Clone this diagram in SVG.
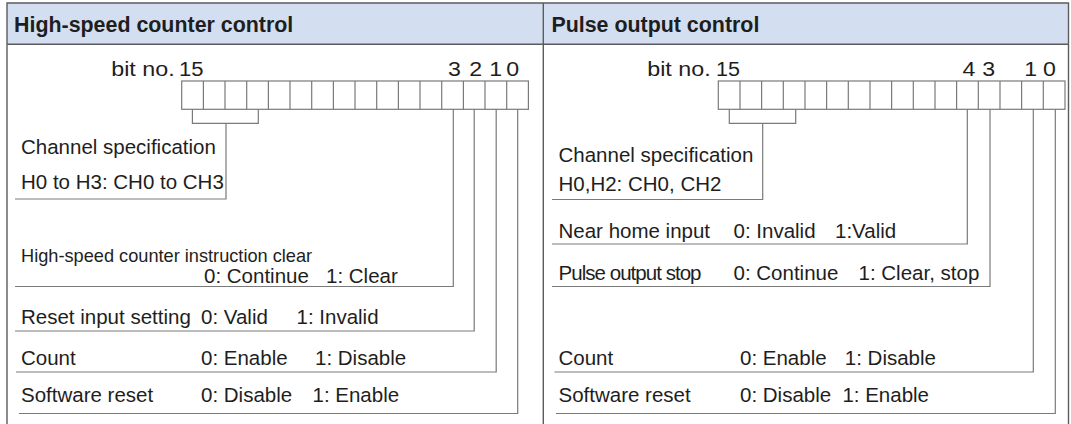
<svg xmlns="http://www.w3.org/2000/svg" width="1071" height="424" viewBox="0 0 1071 424">
<style>
.t{font-family:"Liberation Sans",Arial,sans-serif;font-size:20.5px;fill:#1e1e1e;white-space:pre}
.s{font-size:18.2px}
.h{font-family:"Liberation Sans",Arial,sans-serif;font-size:21.4px;font-weight:bold;fill:#1e1e1e}
.b{font-family:"Liberation Sans",Arial,sans-serif;font-size:19.5px;fill:#1e1e1e}
.frame{fill:none;stroke:#5c5c5c;stroke-width:1.4}
.cell{fill:#fff;stroke:#7a7a7a;stroke-width:1.2}
.ln{fill:none;stroke:#7a7a7a;stroke-width:1.2}
</style>
<g id="table">
<rect x="7" y="3" width="1061.5" height="41.3" fill="#d3dff0"/>
<path class="frame" d="M7,424 V3 H1068.5 V424 M7,44.3 H1068.5 M543.3,3 V424"/>
<text class="h" x="14" y="31.5">High-speed counter control</text>
<text class="h" x="551.4" y="31.5">Pulse output control</text>
</g>
<g id="left-register">
<text class="b" x="111.2" y="76" textLength="63.5" lengthAdjust="spacingAndGlyphs">bit no.</text>
<text class="b" x="179" y="76" textLength="24.5" lengthAdjust="spacingAndGlyphs">15</text>
<text class="b" x="448" y="76" textLength="12.9" lengthAdjust="spacingAndGlyphs">3</text>
<text class="b" x="469.3" y="76" textLength="12.9" lengthAdjust="spacingAndGlyphs">2</text>
<text class="b" x="489.2" y="76" textLength="12.9" lengthAdjust="spacingAndGlyphs">1</text>
<text class="b" x="506.3" y="76" textLength="12.9" lengthAdjust="spacingAndGlyphs">0</text>
<rect class="cell" x="181.7" y="81" width="346.7" height="28.3"/>
<path class="cell" d="M203.4,81V109.3M225.0,81V109.3M246.7,81V109.3M268.4,81V109.3M290.0,81V109.3M311.7,81V109.3M333.4,81V109.3M355.0,81V109.3M376.7,81V109.3M398.4,81V109.3M420.0,81V109.3M441.7,81V109.3M463.4,81V109.3M485.0,81V109.3M506.7,81V109.3"/>
</g>
<g id="right-register">
<text class="b" x="647.2" y="76" textLength="63.5" lengthAdjust="spacingAndGlyphs">bit no.</text>
<text class="b" x="716" y="76" textLength="24" lengthAdjust="spacingAndGlyphs">15</text>
<text class="b" x="962.5" y="76" textLength="12.9" lengthAdjust="spacingAndGlyphs">4</text>
<text class="b" x="982.3" y="76" textLength="12.9" lengthAdjust="spacingAndGlyphs">3</text>
<text class="b" x="1024.2" y="76" textLength="12.9" lengthAdjust="spacingAndGlyphs">1</text>
<text class="b" x="1043" y="76" textLength="12.9" lengthAdjust="spacingAndGlyphs">0</text>
<rect class="cell" x="718.3" y="81" width="346.7" height="28.3"/>
<path class="cell" d="M740.0,81V109.3M761.6,81V109.3M783.3,81V109.3M805.0,81V109.3M826.6,81V109.3M848.3,81V109.3M870.0,81V109.3M891.6,81V109.3M913.3,81V109.3M935.0,81V109.3M956.6,81V109.3M978.3,81V109.3M1000.0,81V109.3M1021.6,81V109.3M1043.3,81V109.3"/>
</g>
<g id="connectors">
<path class="ln" d="M192.4,109.3V123.3H258.3V109.3M226,123.3V199H15"/>
<path class="ln" d="M453.3,109.3V286.5H15"/>
<path class="ln" d="M474.2,109.3V331H15"/>
<path class="ln" d="M496.2,109.3V372H16"/>
<path class="ln" d="M517.7,109.3V413.5H19"/>
<path class="ln" d="M729.3,109.3V123.3H795.7V109.3M762.7,123.3V199.5H552"/>
<path class="ln" d="M967.3,109.3V244H552"/>
<path class="ln" d="M990,109.3V286.5H552"/>
<path class="ln" d="M1033.3,109.3V372H554.5"/>
<path class="ln" d="M1055.3,109.3V413.5H556"/>
</g>
<g id="left-labels">
<text class="t" x="21" y="154">Channel specification</text>
<text class="t" x="21" y="189">H0 to H3: CH0 to CH3</text>
<text class="t s" x="21" y="262">High-speed counter instruction clear</text>
<text class="t" x="204" y="283">0: Continue<tspan x="326">1: Clear</tspan></text>
<text class="t" x="21" y="324">Reset input setting</text>
<text class="t" x="201" y="324">0: Valid<tspan x="296.5">1: Invalid</tspan></text>
<text class="t" x="21" y="364.5">Count</text>
<text class="t" x="201" y="364.5">0: Enable<tspan x="315">1: Disable</tspan></text>
<text class="t" x="21" y="401.5">Software reset</text>
<text class="t" x="201" y="401.5">0: Disable<tspan x="312.5">1: Enable</tspan></text>
</g>
<g id="right-labels">
<text class="t" x="558.5" y="161.5">Channel specification</text>
<text class="t" x="558.5" y="190.5">H0,H2: CH0, CH2</text>
<text class="t" x="558.5" y="237.5">Near home input</text>
<text class="t" x="733.5" y="237.5">0: Invalid<tspan x="835">1:Valid</tspan></text>
<text class="t" x="558.5" y="280" textLength="143" lengthAdjust="spacing">Pulse output stop</text>
<text class="t" x="733.5" y="280">0: Continue<tspan x="858.5">1: Clear, stop</tspan></text>
<text class="t" x="558.5" y="364.5">Count</text>
<text class="t" x="740" y="364.5">0: Enable<tspan x="844.8">1: Disable</tspan></text>
<text class="t" x="558.5" y="401.5">Software reset</text>
<text class="t" x="740" y="401.5">0: Disable<tspan x="842.4">1: Enable</tspan></text>
</g>
</svg>
